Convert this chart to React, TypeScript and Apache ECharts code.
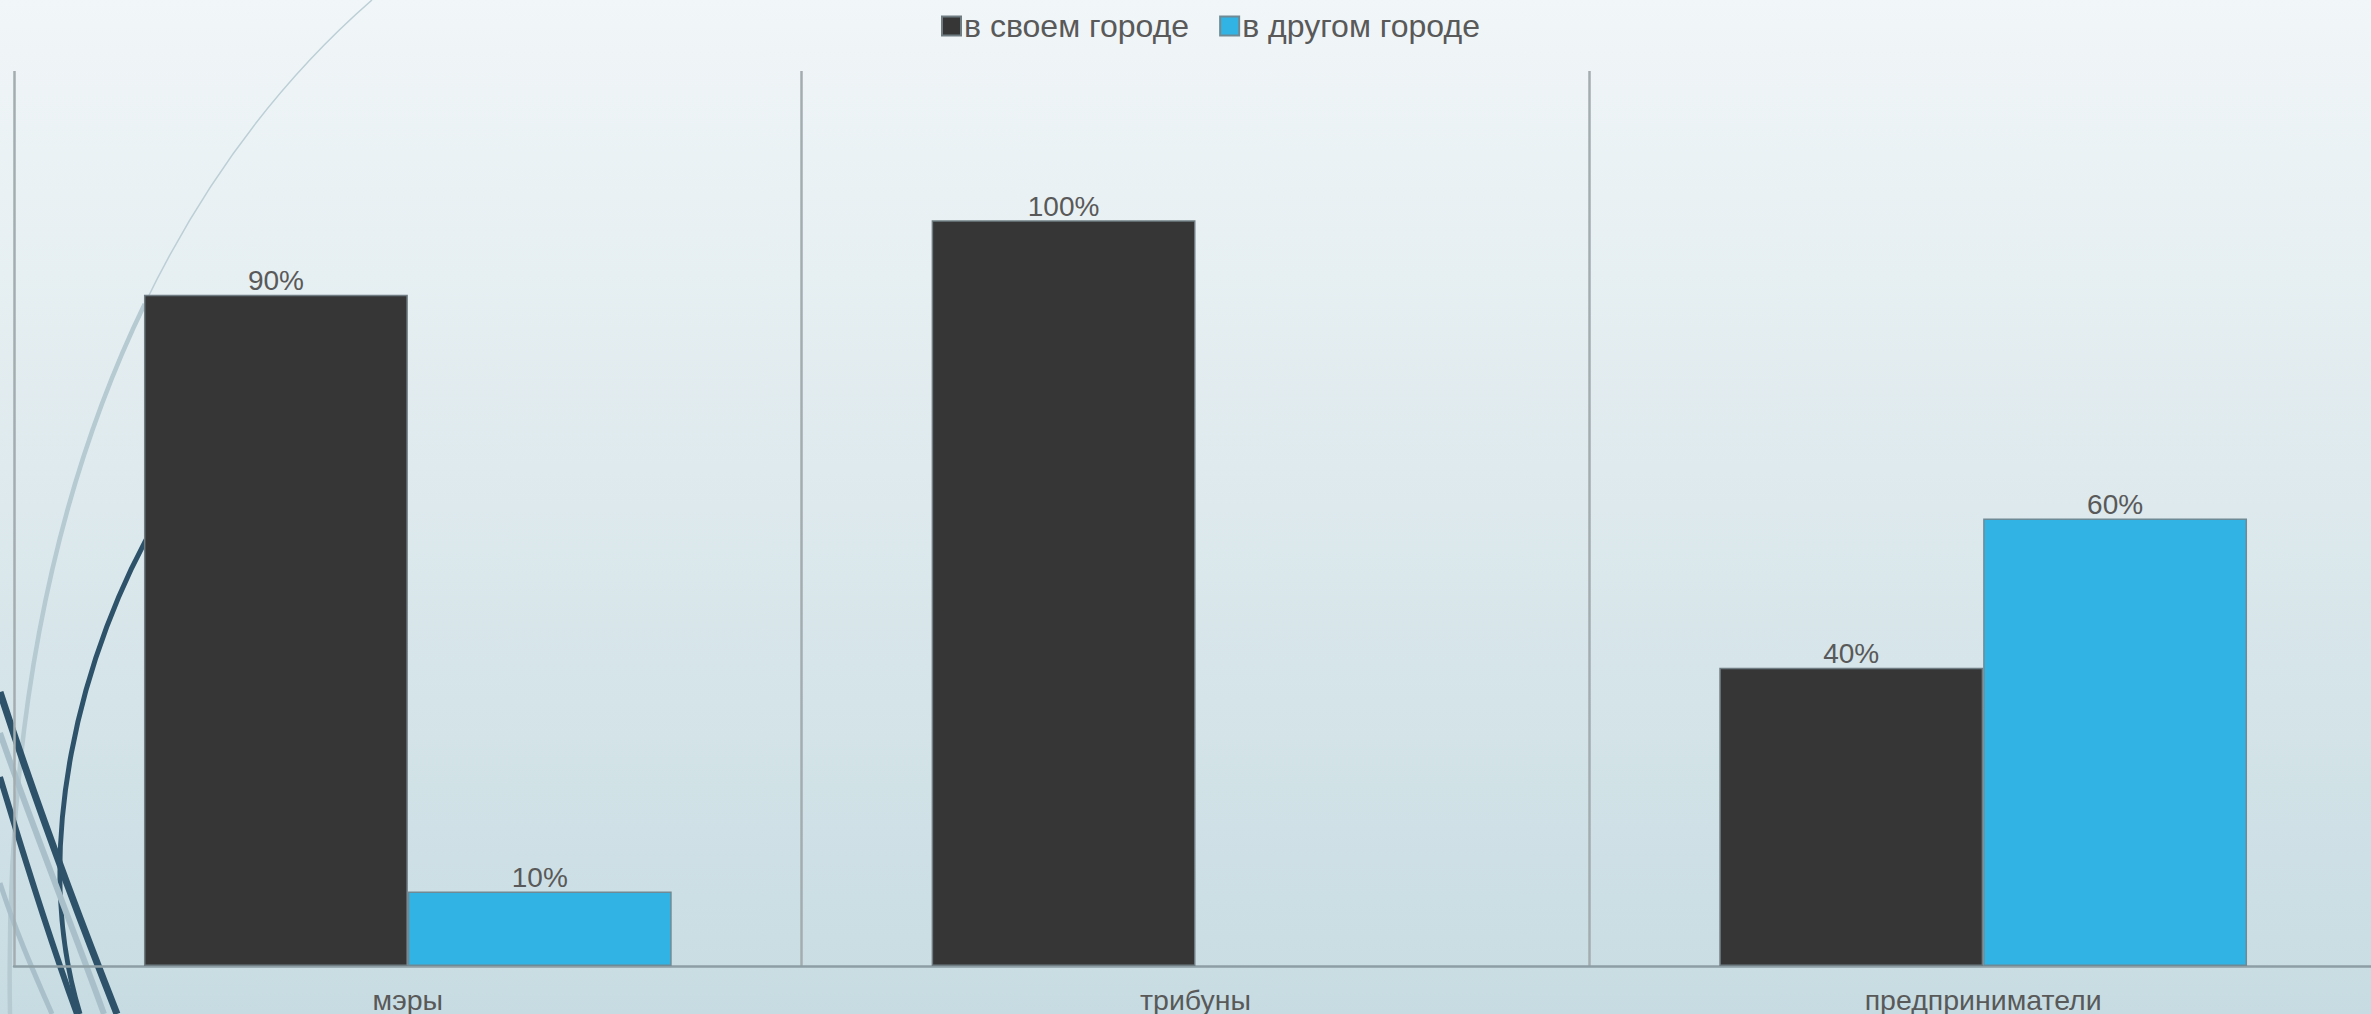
import React, { useEffect, useRef } from "react";
import * as echarts from "echarts";

const categories = ["мэры", "трибуны", "предприниматели"];
const seriesNames = ["в своем городе", "в другом городе"];
const ownCity = [90, 100, 40];
const otherCity = [10, 0, 60];

const TEXT = "#595959";
const FONT = "'Liberation Sans', Arial, sans-serif";

export default function App() {
  const ref = useRef<HTMLDivElement>(null);
  useEffect(() => {
    if (!ref.current) return;
    const chart = echarts.init(ref.current, undefined, { renderer: "svg" });
    const labelCfg = {
      show: true,
      position: "top",
      distance: 0,
      fontSize: 28,
      color: TEXT,
      fontFamily: FONT,
      formatter: (p: any) => (p.value ? p.value + "%" : ""),
    };
    const deco = (
      x1: number, y1: number, cpx1: number, cpy1: number,
      cpx2: number, cpy2: number, x2: number, y2: number,
      stroke: string, lineWidth: number
    ) => ({
      type: "bezierCurve",
      z: 0,
      silent: true,
      shape: { x1, y1, cpx1, cpy1, cpx2, cpy2, x2, y2 },
      style: { stroke, lineWidth, fill: null },
    });
    const toData = (arr: number[]) =>
      arr.map((v) => (v === 0 ? { value: v, itemStyle: { borderWidth: 0 } } : v));
    chart.setOption({
      animation: false,
      backgroundColor: "transparent",
      textStyle: { fontFamily: FONT },
      graphic: [
        deco(372, 0, 294.6, 67.5, 211.5, 165.4, 144.7, 304, "#bccfd6", 1.5),
        deco(144.7, 304, 62.5, 473.5, 4.5, 703.8, 10, 1014, "#b6cad2", 4.5),
        deco(160, 515, 80, 650, 30, 850, 80, 1014, "#2d5269", 5),
        deco(0, 733, 30, 820, 70, 920, 104, 1014, "#a9c0ca", 6),
        deco(0, 883, 15, 930, 35, 975, 52, 1014, "#a9c0ca", 5),
        deco(0, 692, 35, 800, 80, 920, 117, 1014, "#2d5269", 7),
        deco(0, 777, 25, 860, 50, 940, 77, 1014, "#2d5269", 6),
      ],
      legend: {
        data: seriesNames,
        left: 936,
        top: 5,
        itemWidth: 19,
        itemHeight: 19,
        itemGap: 30,
        icon: "rect",
        textStyle: { fontSize: 32, color: TEXT, fontFamily: FONT, padding: [0, 0, 0, -2] },
      },
      grid: { left: 14, top: 71, width: 2363, height: 895, containLabel: false },
      xAxis: {
        type: "category",
        data: categories,
        boundaryGap: true,
        axisLine: { show: true, lineStyle: { color: "#8d9ea4", width: 2.5 } },
        axisTick: { show: false },
        axisLabel: { fontSize: 28.5, color: TEXT, fontFamily: FONT, margin: 19 },
        splitLine: { show: true, lineStyle: { color: "#a3adb0", width: 2.5 } },
      },
      yAxis: {
        type: "value",
        min: 0,
        max: 120,
        show: false,
        splitLine: { show: false },
      },
      series: [
        {
          name: seriesNames[0],
          type: "bar",
          data: toData(ownCity),
          barGap: "0%",
          barCategoryGap: "33%",
          z: 2,
          itemStyle: { color: "#363636", borderColor: "#6f7d82", borderWidth: 1.5 },
          label: labelCfg,
        },
        {
          name: seriesNames[1],
          type: "bar",
          data: toData(otherCity),
          barGap: "0%",
          barCategoryGap: "33%",
          z: 2,
          itemStyle: { color: "#31b3e4", borderColor: "#6f8a94", borderWidth: 1.5 },
          label: labelCfg,
        },
      ],
    });
    return () => chart.dispose();
  }, []);
  return (
    <div
      style={{
        position: "fixed",
        left: 0,
        top: 0,
        width: 2371,
        height: 1014,
        overflow: "hidden",
        background: "linear-gradient(to bottom, #f1f6f8 0%, #dde9ed 50%, #c7dce2 100%)",
      }}
    >
      <div ref={ref} style={{ position: "absolute", left: 0, top: 0, width: 2400, height: 1014 }} />
    </div>
  );
}
